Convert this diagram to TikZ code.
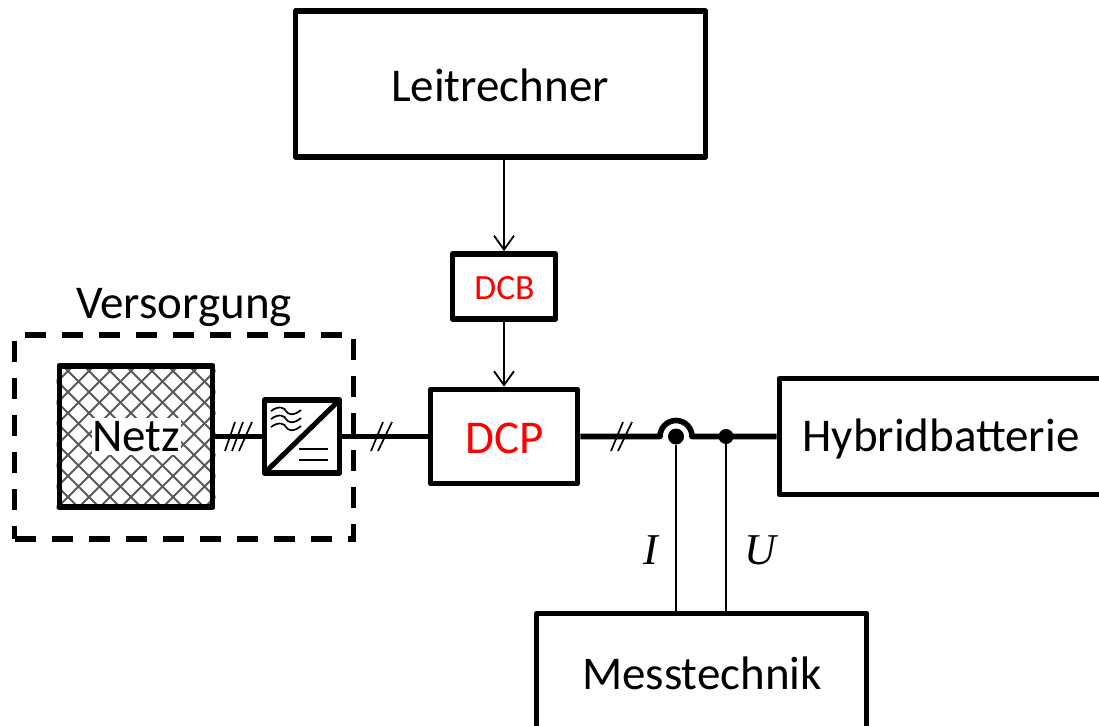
\documentclass[tikz,border=0pt]{standalone}
\usepackage{fontspec}
\setmainfont{Carlito}
\newfontfamily\mathserif{Liberation Serif}
\usetikzlibrary{arrows.meta}
\tikzset{
  x=1pt,y=-1pt,
  box/.style={draw=black,line width=5.6pt,line join=round,fill=white,inner sep=0pt,font=\fontsize{47}{47}\selectfont,text=black},
  dashbox/.style={draw=black,line width=5.6pt,dash pattern=on 21pt off 16pt,inner sep=0pt},
  bus/.style={line width=5.6pt,draw=black},
  thin wire/.style={line width=1.8pt,draw=black},
  sig/.style={thin wire,-{Straight Barb[length=14pt,width=20pt,line width=1.8pt]}},
  tick/.style={line width=1.7pt,draw=black},
  dotmark/.style={circle,fill=black,inner sep=0pt,minimum size=16pt},
  lbl/.style={inner sep=0pt,font=\fontsize{47}{47}\selectfont,text=black},
  mathlbl/.style={inner sep=0pt,font=\fontsize{44}{44}\selectfont\mathserif\itshape,text=black},
}
\begin{document}
\begin{tikzpicture}
\useasboundingbox (0,0) rectangle (1099,725);
\clip (0,0) rectangle (1099,725);
% dashed group
\node[dashbox,minimum width=339pt,minimum height=204pt] (vers) at (184,437) {};
\node[lbl] (verslbl) at (184,307) {Versorgung};
% boxes
\node[box,minimum width=410pt,minimum height=146pt] (leit) at (500.5,84) {};
\node[lbl] (leitlbl) at (500,85) {Leitrechner};
\node[box,minimum width=103pt,minimum height=65pt] (dcb) at (504,286.5) {};
\node[lbl,text=red,font=\fontsize{35.5}{35.5}\selectfont] (dcblbl) at (504.5,288) {DCB};
\node[box,minimum width=147pt,minimum height=94pt] (dcp) at (504,436.5) {};
\node[lbl,text=red] (dcplbl) at (504.5,438) {DCP};
\node[box,minimum width=322pt,minimum height=116pt] (hyb) at (940.5,436.5) {};
\node[lbl] (hyblbl) at (941,439) {Hybridbatterie};
\node[box,minimum width=330pt,minimum height=122pt] (mess) at (701.5,674.5) {};
\node[lbl] (messlbl) at (702,673.5) {Messtechnik};
% Netz
\node[box,fill=none,minimum width=153pt,minimum height=141pt] (netz) at (136,436.5) {};
\begin{scope}
  \clip (netz.south west) rectangle (netz.north east);
  \foreach \k in {-20,...,30}{
    \draw[line width=2pt,draw=black!65] (\k*21,366) -- ++(160,160);
    \draw[line width=2pt,draw=black!65] (\k*21+10,366) -- ++(-160,160);
  }
\end{scope}
\node[box,fill=none,minimum width=153pt,minimum height=141pt] (netzframe) at (136,436.5) {};
\node[lbl,fill=white,minimum width=89pt,minimum height=37pt] (netzlbl) at (136,436.5) {Netz};
% converter
\node[box,minimum width=75pt,minimum height=73pt] (conv) at (302,436.5) {};
\draw[line width=5pt,line cap=butt] ([shift={(2,-2)}]conv.south west) -- ([shift={(-2,2)}]conv.north east);
\foreach \yy in {411,419,427}
  \draw[line width=1.7pt] (271,\yy) .. controls (279,\yy-6) and (285,\yy-3) .. (286,\yy) .. controls (288,\yy+4) and (294,\yy+5) .. (301,\yy-1);
\draw[line width=1.7pt] (299,449) -- (328,449);
\draw[line width=1.7pt] (299,460) -- (328,460);
% arrows
\draw[sig] (leit.south -| dcb.north) -- (dcb.north);
\draw[sig] (dcb.south) -- (dcp.north);
% bus
\coordinate (jl) at (660,436.5);
\coordinate (jr) at (692,436.5);
\node[dotmark] (di) at (676,436.5) {};
\node[dotmark,minimum size=15pt] (du) at (726,436.5) {};
\draw[bus] (netz.east) -- (conv.west);
\draw[bus] (conv.east) -- (dcp.west |- conv.east);
\draw[bus,line join=round] (dcp.east |- jl) -- (jl) arc[start angle=180,end angle=0,radius=16pt] -- (hyb.west |- jr);
\draw[thin wire] (di) -- (di |- mess.north);
\draw[thin wire] (du) -- (du |- mess.north);
% ticks
\draw[tick] (225,451) -- (235,422);
\draw[tick] (232,451) -- (243,422);
\draw[tick] (239,451) -- (252,422);
\draw[tick] (371,451) -- (383,422);
\draw[tick] (378,451) -- (392,422);
\draw[tick] (611,451) -- (623,422);
\draw[tick] (618,451) -- (632,422);
% labels
\node[mathlbl] (ilbl) at (651,550) {I};
\node[mathlbl] (ulbl) at (760,550) {U};
\end{tikzpicture}
\end{document}
